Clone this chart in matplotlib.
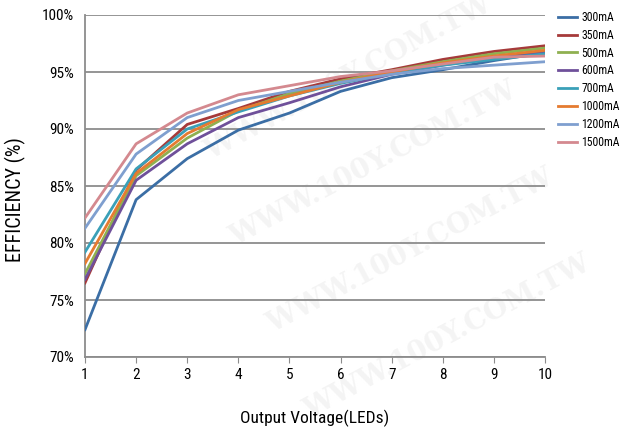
import numpy as np
import matplotlib
matplotlib.use("Agg")
import matplotlib.pyplot as plt
from matplotlib import font_manager

names = {f.name for f in font_manager.fontManager.ttflist}
narrow = [n for n in ["Liberation Sans Narrow", "Roboto Condensed", "Open Sans Condensed"] if n in names]
plt.rcParams['font.family'] = narrow + ['DejaVu Sans']

leds = [1, 2, 3, 4, 5, 6, 7, 8, 9, 10]
labels = ["300mA", "350mA", "500mA", "600mA", "700mA", "1000mA", "1200mA", "1500mA"]
eff_300 = [72.4, 83.8, 87.4, 89.9, 91.4, 93.3, 94.5, 95.2, 96.0, 96.7]
eff_350 = [76.5, 86.4, 90.4, 91.8, 93.3, 94.4, 95.2, 96.1, 96.8, 97.3]
eff_500 = [77.3, 85.9, 89.2, 91.6, 93.1, 94.2, 95.1, 95.9, 96.6, 97.1]
eff_600 = [76.8, 85.5, 88.7, 91.0, 92.3, 93.7, 94.8, 95.6, 96.3, 96.8]
eff_700 = [79.2, 86.5, 90.0, 91.5, 92.9, 94.0, 94.9, 95.6, 96.1, 96.6]
eff_1000 = [78.2, 86.1, 89.6, 91.7, 92.9, 94.1, 95.0, 95.8, 96.4, 96.9]
eff_1200 = [81.3, 87.8, 91.0, 92.5, 93.3, 94.1, 94.8, 95.3, 95.6, 95.9]
eff_1500 = [82.2, 88.7, 91.4, 93.0, 93.8, 94.6, 95.1, 95.7, 96.3, 96.4]
series = [eff_300, eff_350, eff_500, eff_600, eff_700, eff_1000, eff_1200, eff_1500]
colors = ["#3b6ea5", "#a63a3a", "#8fb050", "#6f509a", "#3aa0b8", "#e57b30", "#7f9fcf", "#d4898f"]

fig = plt.figure(figsize=(6.22, 4.32), dpi=100)
ax = fig.add_axes([85/622, 1 - 357/432, 460/622, 342/432])
ax.patch.set_alpha(0)

# faint watermark behind the plot
for (wx, wy) in [(0.56, 0.82), (0.6, 0.62), (0.66, 0.42), (0.72, 0.22)]:
    fig.text(wx, wy, "WWW.100Y.COM.TW", fontsize=20, family="DejaVu Serif",
             fontweight="bold", color="#f4f4f4", rotation=28, ha="center",
             va="center", zorder=-5)

for vals, lab, c in zip(series, labels, colors):
    ax.plot(leds, vals, color=c, lw=2, label=lab, zorder=3)

ax.set_xlim(1, 10)
ax.set_ylim(70, 100)
ax.set_xticks(leds)
ax.set_yticks(np.arange(70, 101, 5))
ax.set_yticklabels([f"{v}%" for v in range(70, 101, 5)])
ax.yaxis.grid(True, color="#8c8c8c", lw=1.3)
ax.set_axisbelow(True)
for s in ["top", "right"]:
    ax.spines[s].set_visible(False)
for s in ["left", "bottom"]:
    ax.spines[s].set_color("#8c8c8c")
    ax.spines[s].set_linewidth(1.3)
ax.tick_params(axis="y", length=0, labelsize=11, pad=8)
ax.tick_params(axis="x", length=4, color="#8c8c8c", labelsize=11, pad=4)

ax.set_xlabel("Output Voltage(LEDs)", fontsize=12.5, labelpad=20)
ax.set_ylabel("EFFICIENCY (%)", fontsize=14.5)
ax.yaxis.set_label_coords(-0.128, 0.459)

ax.legend(loc="upper left", bbox_to_anchor=(1.028, 1.012), frameon=False,
          fontsize=8.5, handlelength=1.6, handletextpad=0.4, labelspacing=0.41,
          borderpad=0, borderaxespad=0)

fig.savefig("out.png", dpi=100)
